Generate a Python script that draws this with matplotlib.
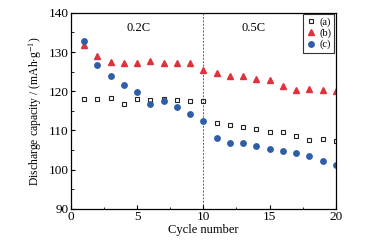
import matplotlib
matplotlib.use("Agg")
import matplotlib.pyplot as plt
from matplotlib.ticker import MultipleLocator

plt.rcParams.update({"font.family": "Liberation Serif", "font.size": 8.5,
                     "mathtext.fontset": "stix"})

cycles = list(range(1, 21))
cap_a = [118.0, 118.0, 118.4, 116.8, 118.1, 117.8, 118.0, 117.7, 117.5, 117.6,
         112.0, 111.5, 110.8, 110.5, 109.7, 109.6, 108.7, 107.7, 107.8, 107.4]
cap_b = [131.8, 129.0, 127.4, 127.2, 127.3, 127.6, 127.2, 127.2, 127.1, 125.5,
         124.6, 123.8, 124.0, 123.1, 122.8, 121.4, 120.2, 120.5, 120.2, 120.1]
cap_c = [132.9, 126.7, 124.0, 121.5, 119.9, 116.7, 117.5, 115.9, 114.3, 112.5,
         108.1, 106.9, 106.8, 106.0, 105.3, 104.7, 104.2, 103.4, 102.2, 101.2]
rate_switch = 10
rate_labels = ["0.2C", "0.5C"]

fig = plt.figure(figsize=(3.79, 2.41), dpi=100)
ax = fig.add_axes([0.187, 0.133, 0.699, 0.814])

ax.plot(cycles, cap_a, "s", ms=3.0, mfc="none", mec="#222222", mew=0.8, label="(a)")
ax.plot(cycles, cap_b, "^", ms=4.0, color="#e0323c", label="(b)")
ax.plot(cycles, cap_c, "o", ms=3.9, color="#2e5ea8", label="(c)")
ax.axvline(rate_switch, color="#d0303a", ls=(0, (2, 1.5)), lw=0.7, zorder=0)

ax.text(5.1, 136.1, rate_labels[0], ha="center", va="center", fontsize=9)
ax.text(13.8, 136.1, rate_labels[1], ha="center", va="center", fontsize=9)

ax.set_xlim(0, 20)
ax.set_ylim(90, 140)
ax.xaxis.set_major_locator(MultipleLocator(5))
ax.xaxis.set_minor_locator(MultipleLocator(2.5))
ax.yaxis.set_major_locator(MultipleLocator(10))
ax.yaxis.set_minor_locator(MultipleLocator(5))
ax.tick_params(which="both", direction="in", top=False, right=False, labelsize=9.5, pad=1.5)
ax.tick_params(which="major", length=3)
ax.tick_params(which="minor", length=1.8)
for s in ax.spines.values():
    s.set_linewidth(0.9)

ax.set_xlabel("Cycle number", fontsize=9, labelpad=1)
ax.set_ylabel(r"Discharge capacity / (mAh$\cdot$g$^{-1}$)", fontsize=8.4, labelpad=3.5)

leg = ax.legend(loc="upper right", fontsize=7.5, fancybox=False, framealpha=1,
                edgecolor="#333333", handlelength=0.8, handletextpad=0.4,
                borderpad=0.3, labelspacing=0.15, borderaxespad=0.15)
leg.get_frame().set_linewidth(0.8)

fig.savefig("out.png", dpi=100)
